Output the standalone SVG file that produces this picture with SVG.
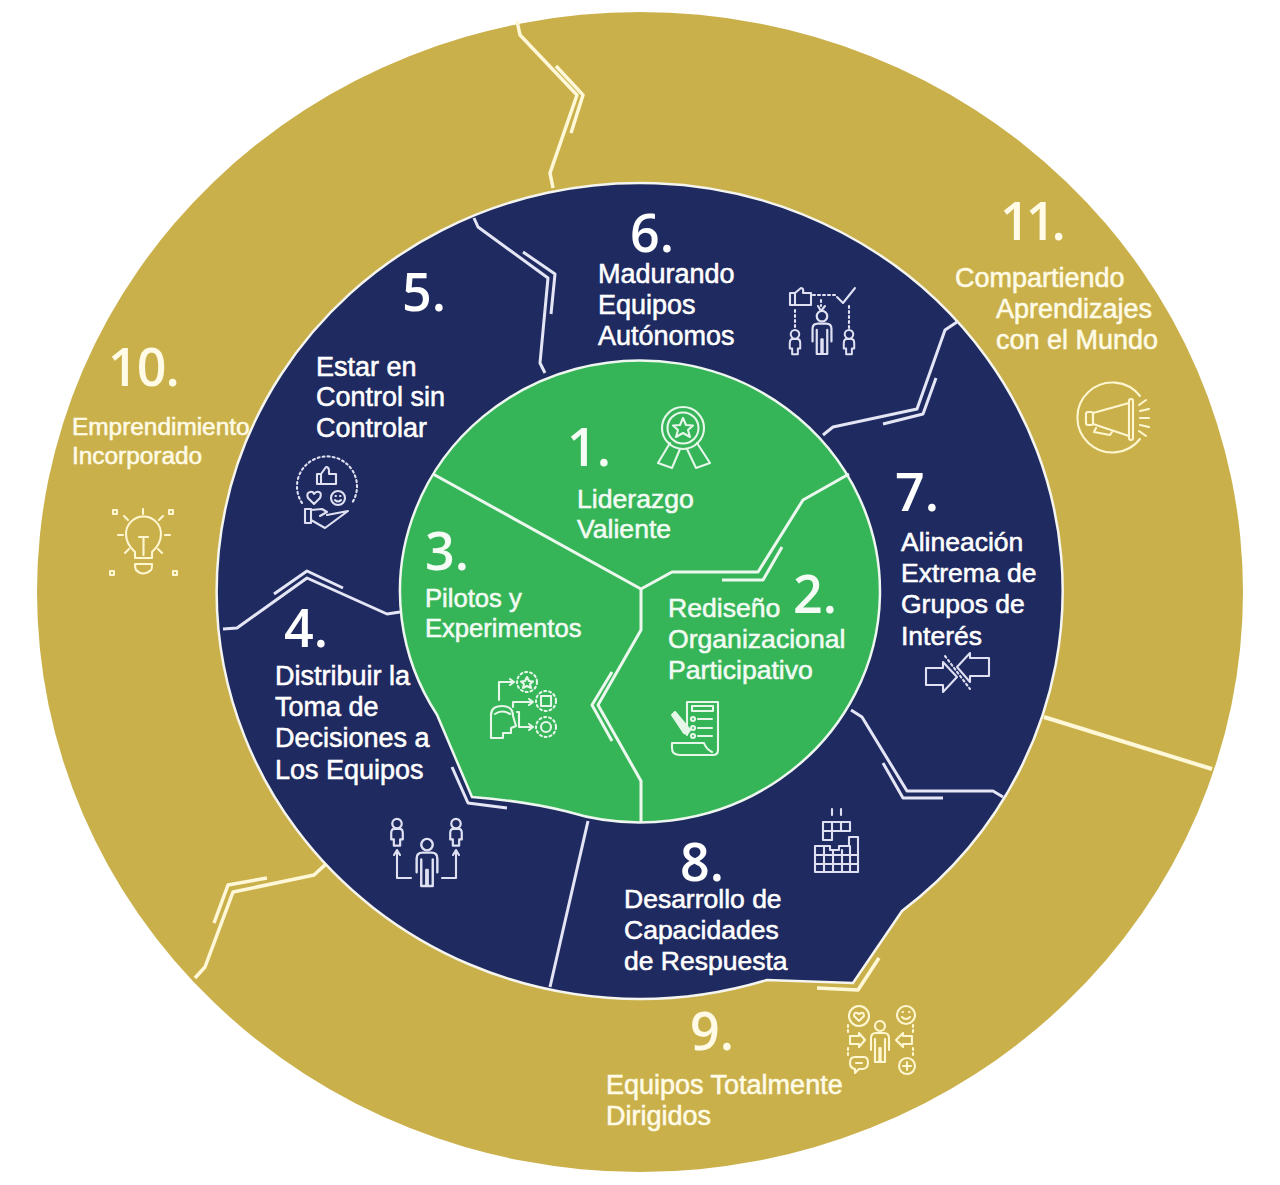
<svg xmlns="http://www.w3.org/2000/svg" width="1280" height="1185" viewBox="0 0 1280 1185">
<style>
.t{font-family:"Liberation Sans",Arial,sans-serif;font-size:27px;fill:#fff;stroke:#fff;stroke-width:.55}
.m{font-size:26.500px}
.tg{fill:#f2fbf3;stroke:#f2fbf3;font-size:26.600px}
.tp{font-size:25.600px}
.ty{fill:#fffbe6;stroke:#fffbe6}
.ts{font-size:24.400px}
.n{font-family:"Open Sans",Lato,sans-serif;font-size:52px;font-weight:600;fill:#fff}
.ng{fill:#f4fcf5}
.ny{fill:#fffbe6}
.cg,.cn,.cv{fill:none;stroke-linejoin:round;stroke-linecap:butt}
.cg{stroke:#fff8d8;stroke-width:3.500}
.cw{stroke-width:4}
.cn{stroke:#e4e5f5;stroke-width:3}
.cv{stroke:#ecf8ee;stroke-width:3}
.ia,.ib,.ic{fill:none;stroke-width:2.100;stroke-linejoin:round;stroke-linecap:round}
.ia{stroke:#dfe1f2}
.ib{stroke:#e6f7ea}
.ic{stroke:#fff6d2}
.d{stroke-dasharray:2 3}
</style>
<defs>
<g id="big"><circle cx="0" cy="-16" r="5"/><path d="M-9 8V-4Q-9-9-4-9H4Q9-9 9-4V8M-5-3V20H-.6V6H.6V20H5V-3"/></g>
<g id="small"><circle cx="0" cy="-7" r="4.500"/><path d="M-5.500 8V2Q-5.500-2-2.500-2H2.500Q5.500-2 5.500 2V8H3V14H-3V8Z"/></g>
</defs>
<rect width="1280" height="1185" fill="#fff"/>
<g id="rings">
<ellipse cx="640" cy="592" rx="603" ry="580" fill="#cab04a"/>
<path d="M902 911L853 983L767 980A423 408 0 1 1 902 911Z" fill="#1f2a60" stroke="#f5f5f0" stroke-width="2.500"/>
<path d="M437 714.700L472 797Q525 801 567 811.500A240 231 0 1 0 437 714.700Z" fill="#36b558" stroke="#eef7ef" stroke-width="2.500"/>
</g>
<g id="connectors">
<path class="cg" d="M517 21L520 35L577 95L550 173L553 188"/>
<path class="cg" d="M556 66L583 95L571 133"/>
<path class="cg" d="M326 864L314 875L233 892L205 967L195 978"/>
<path class="cg" d="M267 878L228 885L214 923"/>
<path class="cg cw" d="M1044 717L1212 769"/>
<path class="cg" d="M879 958L858 990L817 988"/>
<path class="cn" d="M474 218L478 227L548 278L540 363L545 373"/>
<path class="cn" d="M523 252L555 274L551 314"/>
<path class="cn" d="M957 322L945 330L917 409L833 427L823 435"/>
<path class="cn" d="M936 378L923 414L883 424"/>
<path class="cn" d="M851 710L862 717L907 791H993L1003 797"/>
<path class="cn" d="M883 763L903 798H943"/>
<path class="cn" d="M223 629L237 628L307 578L387 614L400 612"/>
<path class="cn" d="M274 594L307 571L343 588"/>
<path class="cn" d="M588 821L550 987"/>
<path class="cn" d="M452 767L468 803L507 808"/>
<path class="cv" d="M433 474L641 589V630L598 705L641 781V823"/>
<path class="cv" d="M641 589L672 572H758L803 500L849 474"/>
<path class="cv" d="M612 672L592 705L612 741"/>
<path class="cv" d="M722 580H763L782 547"/>
</g>
<g id="node-1">
<text class="n ng" x="567" y="466">1.</text>
<text class="t tg" x="577" y="508">Liderazgo</text>
<text class="t tg" x="577" y="538">Valiente</text>
<g class="ib">
<circle cx="683" cy="428" r="21"/><circle cx="683" cy="428" r="15.500"/>
<path d="M683 418L686 425L693 425.500L688 430L690 437L683 433L676 437L678 430L673 425.500L680 425Z"/>
<path d="M670 443L658 463L672 468L680 449M697 443L710 463L696 468L687 449"/>
</g>
</g>
<g id="node-2">
<text class="n ng" x="793" y="613">2.</text>
<text class="t tg" x="668" y="617">Rediseño</text>
<text class="t tg" x="668" y="648">Organizacional</text>
<text class="t tg" x="668" y="679">Participativo</text>
<g class="ib">
<path d="M687 735V702H718V750Q718 755 713 755H680Q672 755 672 748V743H704Q706 749 712 752"/>
<rect x="692" y="706" width="21" height="5"/>
<circle cx="693" cy="719" r="2"/><circle cx="693" cy="728" r="2"/><circle cx="693" cy="736" r="2"/>
<path d="M698 719H712M698 728H712M698 736H712"/>
<path d="M672 715L675 712L690 730L687 734L684 733Z" fill="#e6f7ea"/>
</g>
</g>
<g id="node-3">
<text class="n ng" x="425" y="570">3.</text>
<text class="t tg tp" x="425" y="607">Pilotos y</text>
<text class="t tg tp" x="425" y="637">Experimentos</text>
<g class="ib">
<path d="M491 738V715Q491 706 502 706Q513 706 513 716L516 726L511 728V733H503V738Z"/>
<path d="M495 714Q502 709 510 714"/>
<path d="M499 700V682H513M510 679L514 682L510 685"/>
<path d="M513 707V702H532M529 699L533 702L529 705"/>
<path d="M517 712H519V727H532M529 724L533 727L529 730"/>
<circle class="d" cx="527" cy="682" r="10"/><path d="M527 677L529 681L533 681.500L530 684L531 688L527 686L523 688L524 684L521 681.500L525 681Z"/>
<circle class="d" cx="546" cy="701" r="10"/><rect x="541" y="696" width="10" height="10"/>
<circle class="d" cx="546" cy="727" r="10"/><circle cx="546" cy="727" r="5"/>
</g>
</g>
<g id="node-4">
<text class="n" x="284" y="647">4.</text>
<text class="t" x="275" y="685">Distribuir la</text>
<text class="t" x="275" y="716">Toma de</text>
<text class="t" x="275" y="747">Decisiones a</text>
<text class="t" x="275" y="779">Los Equipos</text>
<g class="ia">
<use href="#big" transform="translate(427 863) scale(1.150)"/>
<use href="#small" transform="translate(397 831) scale(1.050)"/>
<use href="#small" transform="translate(456 831) scale(1.050)"/>
<path d="M394 855L397 850L400 855M397 850V878H411M453 855L456 850L459 855M456 850V878H442"/>
</g>
</g>
<g id="node-5">
<text class="n" x="402" y="311">5.</text>
<text class="t" x="316" y="376">Estar en</text>
<text class="t" x="316" y="406">Control sin</text>
<text class="t" x="316" y="437">Controlar</text>
<g class="ia">
<path class="d" d="M302 503A30 30 0 1 1 352 503"/>
<path d="M317 484V474H321L326 467Q329 467 329 471V474H336V484Z M321 474V484"/>
<path d="M314 504L308 498Q306 493 310 492Q313 491 314 494Q316 491 319 492Q322 493 320 498Z"/>
<circle cx="338" cy="498" r="7"/><path d="M335 500Q338 503 341 500M335.500 496H336M340 496H340.500"/>
<path d="M305 509H311V523H305ZM311 510L322 509L327 512L320 516M311 520L325 528L348 511L327 515"/>
</g>
</g>
<g id="node-6">
<text class="n" x="630" y="252">6.</text>
<text class="t" x="598" y="283">Madurando</text>
<text class="t" x="598" y="314">Equipos</text>
<text class="t" x="598" y="345">Autónomos</text>
<g class="ia">
<path d="M790 305V293H795V305ZM795 293L801 288Q804 288 803 293H811V305H795"/>
<path d="M837 297L843 303L855 288"/>
<path class="d" d="M813 295H835M821 300V306M795 310V330M849 306V330"/>
<path d="M818 306L821 311L825 306"/>
<use href="#big" transform="translate(822 333)scale(1.050)"/>
<use href="#small" transform="translate(795 341)scale(.95)"/>
<use href="#small" transform="translate(849 341)scale(.95)"/>
</g>
</g>
<g id="node-7">
<text class="n" x="895" y="511">7.</text>
<text class="t m" x="901" y="551">Alineación</text>
<text class="t m" x="901" y="582">Extrema de</text>
<text class="t m" x="901" y="613">Grupos de</text>
<text class="t m" x="901" y="645">Interés</text>
<g class="ia">
<path d="M926 668H943V662L957 677L943 692V685H926Z"/>
<path d="M989 658H970V653L957 667L970 682V676H989Z"/>
<path class="d" d="M945 656L970 689"/>
</g>
</g>
<g id="node-8">
<text class="n" x="680" y="881">8.</text>
<text class="t m" x="624" y="908">Desarrollo de</text>
<text class="t m" x="624" y="939">Capacidades</text>
<text class="t m" x="624" y="970">de Respuesta</text>
<g class="ia">
<path d="M832 809V815M841 809V815"/>
<path d="M823 822H850V831H832V840H823ZM823 831H832M832 822V831M841 822V831"/>
<path d="M815 872V846H830V850H839V846H849V837H858V872ZM815 855H858M815 864H858M824 846V872M833 850V872M842 850V872M850 846V872"/>
</g>
</g>
<g id="node-9">
<text class="n ny" x="690" y="1050">9.</text>
<text class="t ty" x="606" y="1094">Equipos Totalmente</text>
<text class="t ty" x="606" y="1125">Dirigidos</text>
<g class="ic">
<use href="#big" transform="translate(880 1042)"/>
<circle cx="859" cy="1016" r="10"/><path d="M859 1021L854 1016Q854 1012 857 1013L859 1014L861 1013Q864 1012 864 1016Z"/>
<circle cx="906" cy="1015" r="9"/><path d="M902 1017Q906 1021 910 1017M902.500 1012H903M909 1012H909.500"/>
<path d="M850 1036H859V1033L865 1040L859 1047V1044H850ZM912 1036H903V1033L896 1040L903 1047V1044H912Z"/>
<path class="d" d="M848 1025V1032M848 1048V1056M913 1025V1032M913 1048V1056"/>
<path d="M855 1057H864Q868 1057 868 1063Q868 1069 862 1069H859L855 1073V1069Q850 1068 850 1063Q850 1057 855 1057ZM856 1063H862"/>
<circle cx="907" cy="1066" r="8"/><path d="M903 1066H911M907 1062V1070"/>
</g>
</g>
<g id="node-10">
<text class="n ny" x="108" y="386" letter-spacing="-1">10.</text>
<text class="t ty ts" x="72" y="435">Emprendimiento</text>
<text class="t ty ts" x="72" y="464">Incorporado</text>
<g class="ic">
<path d="M135 558V552Q126 544 126 534A17.500 17.500 0 1 1 161 534Q161 544 152 552V558M135 558H152M135 564H152M136 570Q143 577 151 570Q152 570 152 564M135 564Q135 568 136 570"/>
<path d="M139 537H148M143.500 537V555"/>
<path d="M143 509V514M124 516L128 520M163 516L159 520M118 535H123M165 535H170M125 553L129 549M162 553L158 549"/>
<rect x="113" y="510" width="4" height="4"/><rect x="169" y="510" width="4" height="4"/><rect x="110" y="571" width="4" height="4"/><rect x="173" y="571" width="4" height="4"/>
</g>
</g>
<g id="node-11">
<text class="n ny" x="1000" y="240" letter-spacing="-4">11.</text>
<text class="t ty" x="955" y="287">Compartiendo</text>
<text class="t ty" x="996" y="318">Aprendizajes</text>
<text class="t ty" x="996" y="349">con el Mundo</text>
<g class="ic">
<path d="M1140 396A35 35 0 1 0 1140 439"/>
<rect x="1129" y="399" width="4" height="41" rx="2"/>
<path d="M1129 403L1093 413V424L1129 436"/>
<rect x="1086" y="412" width="7" height="13" rx="2"/>
<path d="M1096 428L1094 432L1110 435L1112 432"/>
<path d="M1139 405L1146 400M1140 411L1149 409M1140 418H1149M1140 425L1149 427M1139 431L1146 436"/>
</g>
</g>
</svg>
